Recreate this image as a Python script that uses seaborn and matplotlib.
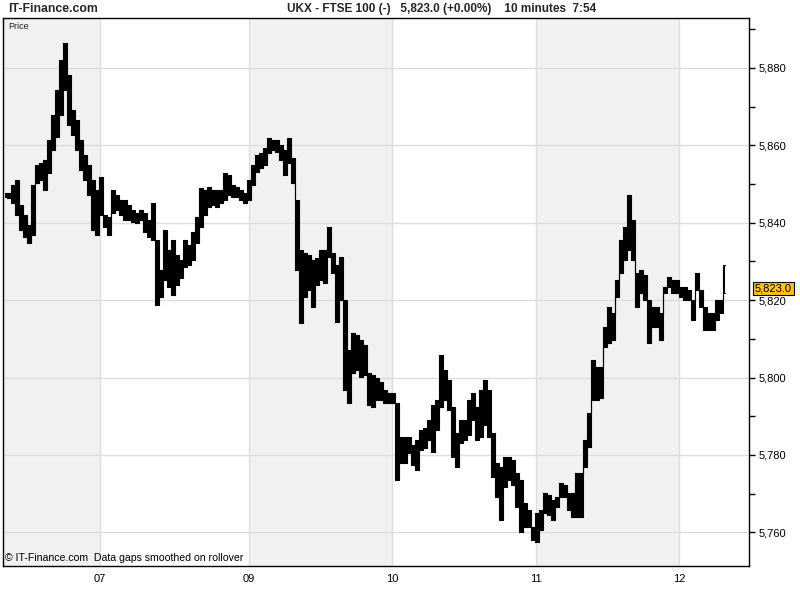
"""
Recreate the IT-Finance intraday chart of the FTSE 100 (UKX), 10 minute bars.
"""

import matplotlib
matplotlib.use("Agg")
import matplotlib.pyplot as plt
import matplotlib.transforms as mtransforms
from matplotlib.ticker import MultipleLocator, FuncFormatter
import pandas as pd
import seaborn as sns

# High / low of the 10 minute bars (every 4th bar)
highs = [
    5847.6, 5847.6, 5849.7, 5851.0, 5844.5, 5841.9, 5839.4, 5849.7, 5854.9, 5855.4,
    5856.2, 5861.3, 5867.8, 5874.2, 5882.0, 5886.4, 5878.1, 5869.1, 5866.5, 5861.3,
    5857.4, 5854.9, 5851.0, 5848.4, 5851.8, 5841.9, 5841.4, 5848.4, 5847.1, 5845.8,
    5845.8, 5844.5, 5843.2, 5842.5, 5843.2, 5842.5, 5840.7, 5845.0, 5835.5, 5827.7,
    5838.1, 5832.9, 5835.5, 5831.6, 5830.3, 5835.5, 5834.2, 5837.6, 5841.4, 5848.9,
    5848.4, 5849.2, 5848.4, 5848.4, 5848.4, 5852.8, 5852.3, 5849.7, 5849.2, 5848.4,
    5847.6, 5851.0, 5854.9, 5857.4, 5858.0, 5859.3, 5861.8, 5861.3, 5861.3, 5860.0,
    5858.7, 5861.8, 5856.7, 5845.8, 5832.9, 5832.1, 5831.6, 5830.3, 5830.8, 5832.9,
    5832.9, 5838.8, 5832.1, 5829.0, 5831.1, 5820.0, 5807.1, 5811.5, 5810.9, 5809.6,
    5808.4, 5801.1, 5800.6, 5799.8, 5798.8, 5796.7, 5795.9, 5795.9, 5793.4, 5784.6,
    5784.6, 5784.6, 5782.5, 5783.8, 5786.4, 5786.9, 5789.0, 5792.8, 5794.1, 5805.8,
    5801.9, 5799.3, 5792.3, 5785.6, 5789.0, 5789.0, 5794.1, 5795.9, 5792.3, 5796.7,
    5799.3, 5796.7, 5785.6, 5777.9, 5776.8, 5779.4, 5779.4, 5778.6, 5775.3, 5773.5,
    5767.5, 5765.7, 5761.3, 5764.9, 5765.7, 5770.1, 5769.6, 5768.3, 5769.1, 5772.7,
    5772.2, 5770.1, 5770.1, 5775.3, 5775.3, 5783.8, 5790.8, 5804.5, 5802.7, 5802.7,
    5813.0, 5818.2, 5816.6, 5825.1, 5835.5, 5838.8, 5847.1, 5840.7, 5827.0, 5827.7,
    5826.4, 5820.0, 5818.2, 5818.2, 5816.6, 5823.3, 5825.9, 5825.1, 5825.1, 5823.3,
    5823.3, 5822.6, 5820.0, 5827.0, 5822.6, 5818.2, 5816.6, 5816.6, 5820.0, 5820.0,
    5829.0,
]
lows = [
    5846.6, 5846.3, 5845.0, 5841.9, 5838.1, 5836.3, 5834.7, 5836.8, 5850.2, 5851.0,
    5848.4, 5852.8, 5858.7, 5862.1, 5867.8, 5874.2, 5865.2, 5862.6, 5858.7, 5853.6,
    5851.0, 5847.1, 5838.1, 5836.8, 5841.9, 5838.8, 5836.8, 5842.5, 5843.2, 5841.9,
    5840.7, 5840.7, 5840.1, 5839.9, 5840.7, 5837.6, 5836.3, 5835.5, 5818.7, 5820.8,
    5825.1, 5823.3, 5821.3, 5823.9, 5825.7, 5828.5, 5829.0, 5830.3, 5834.7, 5838.8,
    5841.9, 5844.0, 5844.5, 5844.0, 5845.0, 5845.8, 5847.1, 5846.6, 5846.6, 5845.8,
    5845.0, 5845.8, 5849.7, 5853.1, 5854.1, 5854.9, 5858.0, 5858.7, 5858.2, 5856.2,
    5852.3, 5855.4, 5850.2, 5827.7, 5814.0, 5820.8, 5822.6, 5818.2, 5823.9, 5825.1,
    5824.4, 5831.1, 5827.0, 5814.3, 5820.0, 5796.7, 5793.4, 5801.1, 5801.9, 5800.1,
    5800.6, 5792.8, 5792.3, 5794.1, 5794.1, 5793.4, 5793.4, 5793.4, 5773.5, 5777.9,
    5777.9, 5780.4, 5777.3, 5776.1, 5781.2, 5781.7, 5783.8, 5780.7, 5786.4, 5792.3,
    5794.1, 5791.6, 5779.4, 5776.8, 5783.0, 5783.8, 5785.1, 5789.0, 5783.8, 5784.6,
    5787.7, 5784.6, 5774.2, 5769.1, 5763.1, 5771.7, 5773.5, 5772.2, 5766.5, 5760.0,
    5761.3, 5761.3, 5758.0, 5757.4, 5760.5, 5764.9, 5764.4, 5763.1, 5766.5, 5769.1,
    5769.1, 5765.7, 5763.9, 5763.9, 5763.9, 5776.8, 5782.0, 5794.1, 5794.1, 5794.7,
    5807.8, 5808.9, 5809.6, 5820.8, 5827.0, 5830.3, 5832.9, 5830.3, 5818.2, 5821.8,
    5820.0, 5808.9, 5813.0, 5813.0, 5809.6, 5821.8, 5823.3, 5821.8, 5821.8, 5820.8,
    5820.0, 5820.0, 5814.8, 5822.6, 5818.2, 5812.2, 5812.2, 5812.2, 5814.8, 5816.6,
    5821.8,
]
last_price = 5823.0
change_pct = 0.00

# day boundaries on the bar axis and their labels
day_labels = ["07", "09", "10", "11", "12"]
day_starts = [23.75, 61.0, 96.75, 132.75, 168.5]


def main():
    df = pd.DataFrame({"bar": range(len(highs)), "high": highs, "low": lows})

    sns.set_theme(style="white")
    plt.rcParams["font.family"] = ["Liberation Sans", "DejaVu Sans"]

    fig = plt.figure(figsize=(8, 6), dpi=100)
    ax = fig.add_axes([3 / 800, 34 / 600, 746 / 800, 548 / 600])
    x0, x1 = -0.5, 186
    ax.set_xlim(x0, x1)
    ax.set_ylim(5751.3, 5892.9)

    # alternate day shading
    ax.axvspan(x0, day_starts[0], color="#f1f1f1", lw=0, zorder=0)
    ax.axvspan(day_starts[1], day_starts[2], color="#f1f1f1", lw=0, zorder=0)
    ax.axvspan(day_starts[3], day_starts[4], color="#f1f1f1", lw=0, zorder=0)

    # the price bars: high-low range of each bar
    ax.fill_between(df["bar"], df["low"], df["high"], step="mid",
                    color="black", lw=0, zorder=3)
    sns.lineplot(data=df, x="bar", y="high", drawstyle="steps-mid",
                 color="black", lw=0.8, ax=ax, zorder=3)
    sns.lineplot(data=df, x="bar", y="low", drawstyle="steps-mid",
                 color="black", lw=0.8, ax=ax, zorder=3)
    ax.set_xlabel("")
    ax.set_ylabel("")

    # axes, ticks and grid
    ax.yaxis.tick_right()
    ax.yaxis.set_major_locator(MultipleLocator(20))
    ax.yaxis.set_minor_locator(MultipleLocator(10))
    ax.yaxis.set_major_formatter(FuncFormatter(lambda v, p: f"{v:,.0f}"))
    ax.tick_params(axis="y", which="both", right=True, left=False, direction="out",
                   length=4, width=1, color="black", labelsize=8, pad=3,
                   labelcolor="black")
    ax.set_xticks(day_starts, day_labels)
    ax.tick_params(axis="x", length=0, labelsize=8, pad=6, labelcolor="black")
    ax.grid(True, which="major", color="#dddddd", lw=1)
    ax.set_axisbelow(True)
    for side in ["left", "right", "top", "bottom"]:
        ax.spines[side].set_visible(True)
        ax.spines[side].set_color("black")
        ax.spines[side].set_linewidth(1)

    # labels
    ax.text(0.007, 0.993, "Price", transform=ax.transAxes, ha="left", va="top",
            fontsize=6.5, color="#222222")
    ax.text(0.003, 0.006, "\u00a9 IT-Finance.com  Data gaps smoothed on rollover",
            transform=ax.transAxes, ha="left", va="bottom", fontsize=7.6,
            color="black", zorder=5)
    fig.text(8 / 800, 1 - 9 / 600, "IT-Finance.com", fontsize=8.8, weight="bold",
             ha="left", va="center")
    fig.text(287 / 800, 1 - 9 / 600,
             f"UKX - FTSE 100 (-)   {last_price:,.1f} (+{change_pct:.2f}%)    10 minutes  7:54",
             fontsize=8.5, weight="bold", ha="left", va="center")

    # last price marker on the price axis
    trans = mtransforms.blended_transform_factory(ax.transAxes, ax.transData)
    ax.text(1 + 6 / 746, last_price, f"{last_price:,.1f}", transform=trans,
            ha="left", va="center", fontsize=8, color="black", clip_on=False,
            zorder=6,
            bbox=dict(boxstyle="square,pad=0.15", facecolor="#ffc20e",
                      edgecolor="black", lw=0.8))

    fig.savefig("out.png", dpi=100, facecolor="white")
    plt.close(fig)


if __name__ == "__main__":
    main()
